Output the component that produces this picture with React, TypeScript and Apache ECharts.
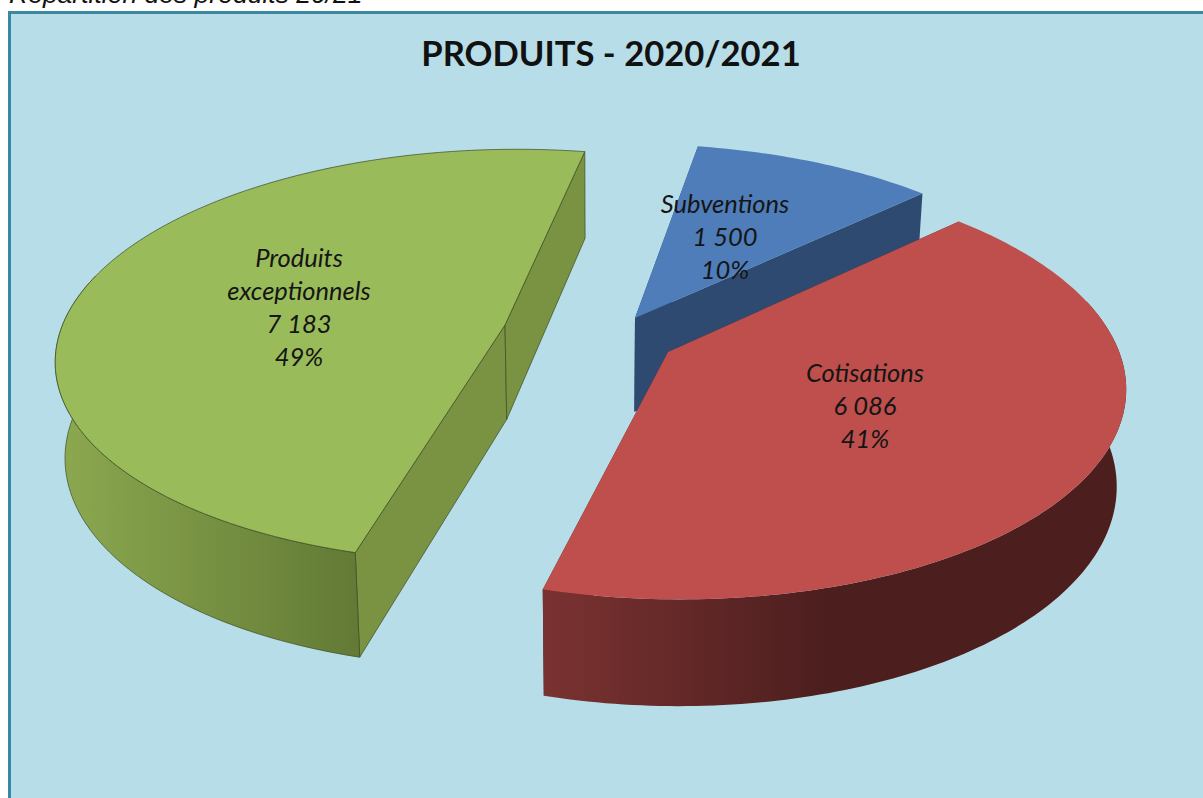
import React, { useEffect, useRef } from "react";
import * as echarts from "echarts";

const pageCaption = "Répartition des produits 20/21";
const chartTitle = "PRODUITS - 2020/2021";
const categories = ["Subventions", "Cotisations", "Produits\nexceptionnels"];
const values = [1500, 6086, 7183];
const startAngle = 10.1;

// projection of the pie plane onto the screen
const X0 = 600, Y0 = 339, A = 447, B = 206, P = 0.15, DEPTH_BASE = 33, DEPTH_NEAR = 62, BOTTOM_SHRINK = 0.982;

const sliceStyles = [
  { apex: [635, 318], top: "#4f7db9", face: "#2e4a70", wallFrom: "#2e4a70", wallTo: "#2e4a70", gradX: [600, 950], stroke: "none", label: [725, 203] },
  { apex: [668, 352], top: "#be4f4c", face: "#4d1e1e", wallFrom: "#7a3231", wallTo: "#4c1e1e", gradX: [545, 830], stroke: "none", label: [865, 372] },
  { apex: [505, 325], top: "#9abb5a", face: "#7a9342", wallFrom: "#8ca84f", wallTo: "#627a35", gradX: [60, 358], stroke: "#3c4a22", label: [299, 257] },
];

const project = (X: number, Y: number) => {
  const s = 1 / (1 + P * Y);
  return [X0 + A * X * s, Y0 - B * Y * s, s];
};
const unproject = (x: number, y: number) => {
  const f = (Y0 - y) / B;
  const Y = f / (1 - P * f);
  const s = 1 / (1 + P * Y);
  return [(x - X0) / (A * s), Y];
};
const lower = (p: number[]) => [X0 + (p[0] - X0) * BOTTOM_SHRINK, p[1] + DEPTH_BASE + DEPTH_NEAR * p[2]];
const upper = (p: number[]) => [p[0], p[1]];

const total = values.reduce((a, b) => a + b, 0);
const fmt = (v: number) => String(v).replace(/\B(?=(\d{3})+$)/g, " ");

const renderSlice = (params: any) => {
  const i = params.dataIndex;
  const st = sliceStyles[i];
  const before = values.slice(0, i).reduce((a, b) => a + b, 0);
  const a1 = startAngle + (before / total) * 360;
  const a2 = a1 + (values[i] / total) * 360;
  const [ax, ay] = unproject(st.apex[0], st.apex[1]);
  const at = (deg: number) => {
    const r = (deg * Math.PI) / 180;
    return project(ax + Math.sin(r), ay + Math.cos(r));
  };
  const rim: number[][] = [];
  const frontRim: number[][] = [];
  const steps = Math.ceil(a2 - a1);
  for (let k = 0; k <= steps; k++) {
    const deg = a1 + ((a2 - a1) * k) / steps;
    const p = at(deg);
    rim.push(p);
    if (deg >= 75 && deg <= 285) frontRim.push(p);
  }
  const apex = project(ax, ay);
  const first = rim[0];
  const last = rim[rim.length - 1];
  const sw = st.stroke === "none" ? 0 : 0.7;
  const stroke = st.stroke === "none" ? undefined : st.stroke;
  const wallFill = new echarts.graphic.LinearGradient(
    st.gradX[0], 0, st.gradX[1], 0,
    [{ offset: 0, color: st.wallFrom }, { offset: 1, color: st.wallTo }],
    true
  );
  const poly = (points: number[][], fill: any) => ({
    type: "polygon",
    shape: { points },
    style: { fill, stroke, lineWidth: sw },
  });
  const lines = `${categories[i]}\n${fmt(values[i])}\n${Math.round((values[i] / total) * 100)}%`.split("\n");
  const wall = frontRim.length > 1
    ? [poly([...frontRim.map(upper), ...frontRim.slice().reverse().map(lower)], wallFill)]
    : [];
  return {
    type: "group",
    children: [
      poly([upper(apex), upper(first), lower(first), lower(apex)], st.face),
      poly([upper(apex), upper(last), lower(last), lower(apex)], st.face),
      ...wall,
      poly([upper(apex), ...rim.map(upper)], st.top),
      ...lines.map((t, k) => ({
        type: "text",
        style: {
          text: t,
          x: st.label[0],
          y: st.label[1] + k * 33,
          fill: "#151515",
          font: "italic 25.5px Lato",
          textAlign: "center",
          textVerticalAlign: "middle",
        },
      })),
    ],
  };
};

export default function App() {
  const ref = useRef<HTMLDivElement>(null);
  useEffect(() => {
    document.body.style.margin = "0";
    document.body.style.overflow = "hidden";
    const chart = echarts.init(ref.current!, null, { renderer: "svg" });
    chart.setOption({
      animation: false,
      backgroundColor: "#ffffff",
      title: {
        text: chartTitle,
        left: 606,
        top: 30,
        textAlign: "center",
        textStyle: { fontFamily: "Lato", fontWeight: "bold", fontSize: 34.6, color: "#111111" },
      },
      graphic: [
        {
          type: "rect", z: -10, silent: true,
          shape: { x: 9.5, y: 12.5, width: 1210, height: 800 },
          style: { fill: "#b7dde8", stroke: "#3b88a0", lineWidth: 3 },
        },
        {
          type: "text", z: -5,
          style: { text: pageCaption, x: 9, y: -20, fill: "#111111", font: "italic 26.5px 'Liberation Sans'" },
        },
      ],
      series: [
        {
          type: "custom",
          coordinateSystem: "none",
          renderItem: renderSlice,
          data: values,
          silent: true,
          clip: false,
        },
      ],
    });
    return () => chart.dispose();
  }, []);
  return <div ref={ref} style={{ width: 1203, height: 798 }} />;
}
